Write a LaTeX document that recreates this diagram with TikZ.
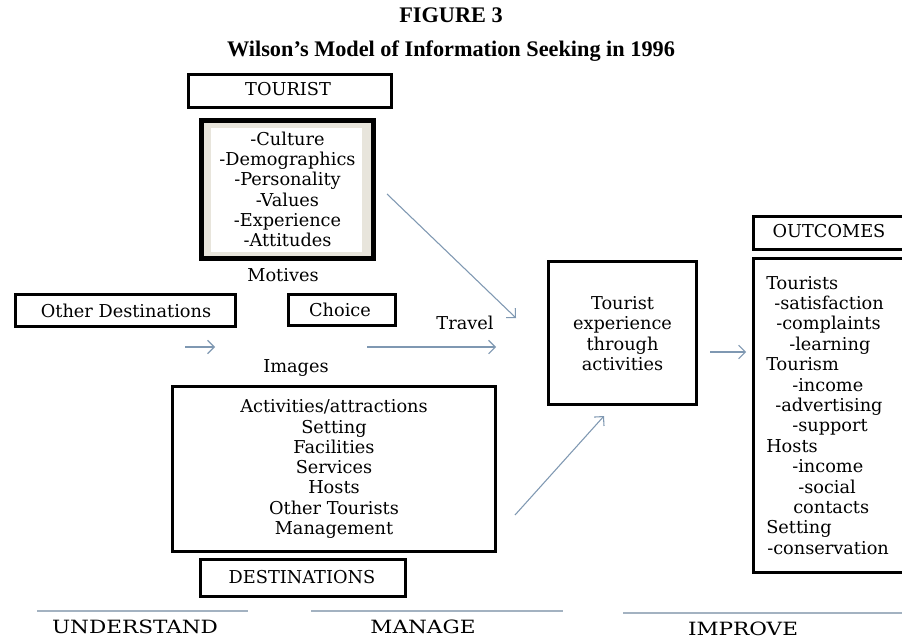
\documentclass[tikz,border=0pt]{standalone}
\usepackage{fontspec}
\setmainfont{DejaVu Serif}
\newfontfamily\titlefont{Liberation Serif}
\newfontfamily\widefont[FakeStretch=1.18]{DejaVu Serif}
\usetikzlibrary{arrows.meta,fit}
\definecolor{arrowc}{HTML}{7F98B2}
\definecolor{rulec}{HTML}{A3B2C1}
\definecolor{beige}{HTML}{E8E5DC}
\begin{document}
\begin{tikzpicture}[x=0.75pt,y=-0.75pt,
  boxst/.style={draw=black,line width=2.4pt,inner sep=0pt,fill=white},
  txt/.style={font=\fontsize{13.3}{15.2}\selectfont,inner sep=0pt},
  ml/.style={txt,align=center},
  arr/.style={draw=arrowc,line width=0.8pt,-{Straight Barb[length=5pt,width=10pt]}},
  rulest/.style={draw=rulec,line width=1.1pt},
  lab/.style={font=\widefont\fontsize{13.7}{16}\selectfont,inner sep=0pt,anchor=base},
  ttl/.style={font=\titlefont\bfseries\fontsize{16.7}{20}\selectfont,anchor=base,inner sep=0pt}]
\clip (0,0) rectangle (902,638);
\fill[white] (0,0) rectangle (902,638);

% titles
\node[ttl] (fig) at (451,23) {FIGURE 3};
\node[ttl] (title) at (451,57) {Wilson’s Model of Information Seeking in 1996};

% boxes
\node[boxst, fit={(188.6,74.6) (391.4,107.4)}] (tourist) {};
\node[txt, anchor=base] (touristt) at (288,96) {TOURIST};

\node[draw=black, line width=3.4pt, fill=beige, inner sep=0pt, fit={(201.3,120.3) (373.7,258.7)}] (attr) {};
\node[fill=white, draw=none, inner sep=0pt, fit={(211,128.5) (362,251.5)}] (attrin) {};
\node[ml] (attrt) at (287.5,189.5) {-Culture\\-Demographics\\-Personality\\-Values\\-Experience\\-Attitudes};

\node[txt, anchor=base] (motives) at (283,281) {Motives};

\node[boxst, fit={(15.6,294.6) (235.4,326.4)}] (other) {};
\node[txt, anchor=base] (othert) at (126,317) {Other Destinations};

\node[boxst, fit={(288.6,294.6) (395.4,325.4)}] (choice) {};
\node[txt, anchor=base] (choicet) at (340,316) {Choice};

\node[txt, anchor=base] (travel) at (465,329) {Travel};
\node[txt, anchor=base] (images) at (296,372) {Images};

\node[boxst, fit={(172.6,386.6) (495.4,551.4)}] (destattr) {};
\node[ml] (destattrt) at (334,469) {Activities/attractions\\Setting\\Facilities\\Services\\Hosts\\Other Tourists\\Management};

\node[boxst, fit={(200.6,559.6) (405.4,596.4)}] (dest) {};
\node[txt, anchor=base] (destt) at (302,583) {DESTINATIONS};

\node[boxst, fit={(548.6,261.6) (696.4,404.4)}] (exper) {};
\node[ml] (expert) at (622.5,333.5) {Tourist\\experience\\through\\activities};

\node[boxst, fit={(753.6,216.6) (912,249.4)}] (outc) {};
\node[txt, anchor=base] (outct) at (829,237) {OUTCOMES};

\node[boxst, fit={(753.6,258.6) (912,572.4)}] (outl) {};
\node[txt, anchor=base west] (o1) at (766,289) {Tourists};
\node[txt, anchor=base west] (o2) at (774,309.4) {-satisfaction};
\node[txt, anchor=base west] (o3) at (776,329.8) {-complaints};
\node[txt, anchor=base west] (o4) at (789,350.2) {-learning};
\node[txt, anchor=base west] (o5) at (766,370.6) {Tourism};
\node[txt, anchor=base west] (o6) at (792,391) {-income};
\node[txt, anchor=base west] (o7) at (775,411.4) {-advertising};
\node[txt, anchor=base west] (o8) at (792,431.8) {-support};
\node[txt, anchor=base west] (o9) at (766,452.2) {Hosts};
\node[txt, anchor=base west] (o10) at (792,472.6) {-income};
\node[txt, anchor=base west] (o11) at (798,493) {-social};
\node[txt, anchor=base west] (o12) at (793,513.4) {contacts};
\node[txt, anchor=base west] (o13) at (766,533.8) {Setting};
\node[txt, anchor=base west] (o14) at (767,554.2) {-conservation};

% arrows
\coordinate (a1s) at (387,194); \coordinate (a1e) at (516,318);
\coordinate (a2s) at (185,347); \coordinate (a2e) at (215,347);
\coordinate (a3s) at (367,347); \coordinate (a3e) at (496,347);
\coordinate (a4s) at (515,515); \coordinate (a4e) at (604,416);
\coordinate (a5s) at (710,352); \coordinate (a5e) at (746,352);
\draw[arr] (a1s) -- (a1e);
\draw[arr] (a2s) -- (a2e);
\draw[arr] (a3s) -- (a3e);
\draw[arr] (a4s) -- (a4e);
\draw[arr] (a5s) -- (a5e);

% bottom rules and labels
\coordinate (r1a) at (37,611); \coordinate (r1b) at (248,611);
\coordinate (r2a) at (311,611); \coordinate (r2b) at (563,611);
\coordinate (r3a) at (623,613); \coordinate (r3b) at (903,613);
\draw[rulest] (r1a) -- (r1b);
\draw[rulest] (r2a) -- (r2b);
\draw[rulest] (r3a) -- (r3b);
\node[lab] (understand) at (135,633) {UNDERSTAND};
\node[lab] (manage) at (423,633) {MANAGE};
\node[lab] (improve) at (743,635) {IMPROVE};
\end{tikzpicture}
\end{document}
